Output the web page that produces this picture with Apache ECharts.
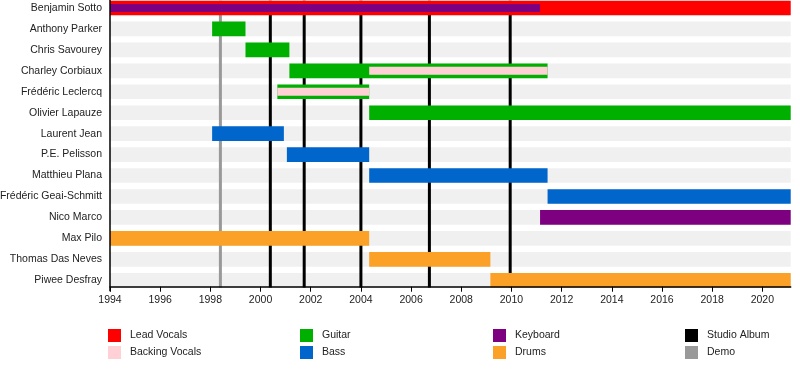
<!DOCTYPE html>
<html>
<head>
<meta charset="utf-8">
<script src="https://cdn.jsdelivr.net/npm/echarts@6/dist/echarts.min.js"></script>
<style>
  html, body { margin: 0; padding: 0; background: #fff; }
  #chart { width: 800px; height: 376px; }
</style>
</head>
<body>
<div id="chart"></div>
<script>
const members = [
  'Benjamin Sotto', 'Anthony Parker', 'Chris Savourey', 'Charley Corbiaux',
  'Frédéric Leclercq', 'Olivier Lapauze', 'Laurent Jean', 'P.E. Pelisson',
  'Matthieu Plana', 'Frédéric Geai-Schmitt', 'Nico Marco', 'Max Pilo',
  'Thomas Das Neves', 'Piwee Desfray'
]
const tickYears = [1994, 1996, 1998, 2000, 2002, 2004, 2006, 2008, 2010, 2012, 2014, 2016, 2018, 2020]
const startYear = 1994
const endYear = 2021.13

// [member row, from, to]
const leadVocals = [[0, 1994, 2021.13]]
const guitar = [
  [1, 1998.07, 1999.4], [2, 1999.4, 2001.15], [3, 2001.15, 2011.44],
  [4, 2000.67, 2004.33], [5, 2004.33, 2021.13]
]
const bass = [
  [6, 1998.07, 2000.93], [7, 2001.05, 2004.33], [8, 2004.33, 2011.44], [9, 2011.44, 2021.13]
]
const keyboard = [[0, 1994, 2011.14], [10, 2011.14, 2021.13]]
const drums = [[11, 1994, 2004.33], [12, 2004.33, 2009.16], [13, 2009.16, 2021.13]]
const backingVocals = [[3, 2004.33, 2011.44], [4, 2000.67, 2004.33]]
const studioAlbums = [2000.39, 2001.74, 2004.0, 2006.73, 2009.95]
const demos = [1998.4]

const font = 'Liberation Sans, Arial, sans-serif'

// earlier roles win; an overlapping later role is drawn as a thin stripe
const roles = [
  { name: 'Lead Vocals', color: '#ff0000', data: leadVocals },
  { name: 'Guitar', color: '#00b000', data: guitar },
  { name: 'Bass', color: '#0066cc', data: bass },
  { name: 'Keyboard', color: '#7d0080', data: keyboard },
  { name: 'Drums', color: '#fba128', data: drums },
  { name: 'Backing Vocals', color: '#ffd0d6', data: backingVocals },
]

function isCovered(seg, upto) {
  return roles.slice(0, upto).some(r =>
    r.data.some(o => o[0] === seg[0] && o[1] < seg[2] && o[2] > seg[1]))
}

function barSeries(role, idx) {
  return {
    name: role.name,
    type: 'custom',
    silent: true,
    itemStyle: { color: role.color },
    encode: { x: [1, 2], y: 0 },
    data: role.data.map(seg => [seg[0], seg[1], seg[2], isCovered(seg, idx) ? 1 : 0]),
    renderItem: (params, api) => {
      const row = api.value(0)
      const p0 = api.coord([api.value(1), row])
      const p1 = api.coord([api.value(2), row])
      const band = api.size([0, 1])[1]
      const h = band * (api.value(3) ? 0.38 : 0.7)
      return {
        type: 'rect',
        shape: { x: p0[0], y: p0[1] - h / 2, width: p1[0] - p0[0], height: h },
        style: { fill: role.color },
      }
    },
  }
}

function lineSeries(name, color, years) {
  return {
    name,
    type: 'custom',
    silent: true,
    itemStyle: { color },
    encode: { x: 0 },
    data: years.map(y => [y]),
    renderItem: (params, api) => {
      const x = api.coord([api.value(0), 0])[0]
      const band = api.size([0, 1])[1]
      const top = api.coord([api.value(0), 0])[1] - band * 0.35
      const bottom = api.coord([api.value(0), members.length - 1])[1] + band * 0.35
      return {
        type: 'line',
        shape: { x1: x, y1: top, x2: x, y2: bottom },
        style: { stroke: color, lineWidth: 3 },
      }
    },
  }
}

const background = {
  type: 'custom',
  silent: true,
  encode: { x: [1, 2], y: 0 },
  data: members.map((m, i) => [i, startYear, endYear]),
  renderItem: (params, api) => {
    const p0 = api.coord([api.value(1), api.value(0)])
    const p1 = api.coord([api.value(2), api.value(0)])
    const h = api.size([0, 1])[1] * 0.7
    return {
      type: 'rect',
      shape: { x: p0[0], y: p0[1] - h / 2, width: p1[0] - p0[0], height: h },
      style: { fill: '#f0f0f0' },
    }
  },
}

const legendBase = {
  orient: 'vertical',
  top: 329,
  padding: 0,
  icon: 'rect',
  itemWidth: 13,
  itemHeight: 13,
  itemGap: 4,
  selectedMode: false,
  textStyle: { fontFamily: font, fontSize: 10.5, color: '#222', padding: [0, 0, 0, 4] },
}

const chart = echarts.init(document.getElementById('chart'))
chart.setOption({
  animation: false,
  textStyle: { fontFamily: font },
  grid: { left: 110, right: 9.3, top: -2.47, height: 293.2, outerBoundsMode: 'none' },
  xAxis: {
    type: 'value',
    min: startYear,
    max: endYear,
    interval: 2,
    offset: -4,
    z: 5,
    splitLine: { show: false },
    axisLine: { show: true, lineStyle: { color: '#000', width: 1.5 } },
    axisTick: { show: true, length: 5, lineStyle: { color: '#000' }, customValues: tickYears },
    axisLabel: {
      fontSize: 10.5,
      color: '#222',
      margin: 8,
      customValues: tickYears,
      formatter: v => String(v),
    },
  },
  yAxis: {
    type: 'category',
    data: members,
    inverse: true,
    z: 5,
    axisTick: { show: false },
    axisLine: { show: true, lineStyle: { color: '#000', width: 1.5 } },
    axisLabel: { fontSize: 10.5, color: '#222', margin: 8 },
  },
  legend: [
    Object.assign({ left: 108, data: ['Lead Vocals', 'Backing Vocals'] }, legendBase),
    Object.assign({ left: 300, data: ['Guitar', 'Bass'] }, legendBase),
    Object.assign({ left: 493, data: ['Keyboard', 'Drums'] }, legendBase),
    Object.assign({ left: 685, data: ['Studio Album', 'Demo'] }, legendBase),
  ],
  series: [
    background,
    lineSeries('Demo', '#999999', demos),
    lineSeries('Studio Album', '#000000', studioAlbums),
    ...roles.map(barSeries),
  ],
})
</script>
</body>
</html>
